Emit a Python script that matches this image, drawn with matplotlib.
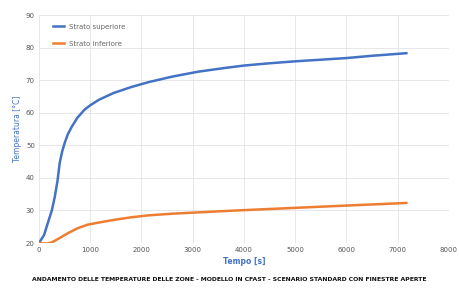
import numpy as np
import matplotlib.pyplot as plt

# Strato superiore
t_sup = [0, 100, 173, 250, 308, 360, 404, 450, 500, 560, 635, 750, 885, 1000, 1170,
         1460, 1800, 2135, 2600, 3100, 3600, 4000, 4500, 5000, 5500, 6000, 6500, 7170]
T_sup = [20, 22.5, 26.2, 30, 34.2, 39, 44.6, 48, 50.7, 53.3, 55.6, 58.5, 60.9, 62.3, 64,
         66.1, 67.9, 69.4, 71.1, 72.6, 73.7, 74.5, 75.2, 75.8, 76.3, 76.8, 77.5, 78.3]

# Strato inferiore
t_inf = [0, 150, 250, 400, 560, 750, 940, 1170, 1460, 1800, 2135, 2600, 3100, 3600,
         4000, 5000, 6000, 7170]
T_inf = [20, 19.8, 20.2, 21.5, 23, 24.5, 25.6, 26.3, 27.1, 27.9, 28.5, 29, 29.4, 29.8,
         30.1, 30.8, 31.5, 32.3]

x_ticks = [0, 1000, 2000, 3000, 4000, 5000, 6000, 7000, 8000]
y_ticks = [20, 30, 40, 50, 60, 70, 80, 90]

blu = '#4472C4'
arancio = '#ED7D31'

fig = plt.figure(figsize=(4.59, 2.9), dpi=100)
ax = fig.add_axes([0.085, 0.162, 0.893, 0.786])

ax.plot(t_sup, T_sup, color=blu, lw=1.8, label='Strato superiore')
ax.plot(t_inf, T_inf, color=arancio, lw=1.8, label='Strato inferiore')

ax.set_xlim(0, 8000)
ax.set_ylim(20, 90)
ax.set_xticks(x_ticks)
ax.set_yticks(y_ticks)
ax.tick_params(labelsize=5, colors='#555555', length=0, pad=3)
ax.grid(True, color='#e4e4e4', lw=0.6)
for s in ax.spines.values():
    s.set_visible(False)

ax.set_xlabel('Tempo [s]', fontsize=5.5, color=blu, labelpad=3, fontweight='bold')
ax.set_ylabel('Temperatura [°C]', fontsize=5.5, color=blu, labelpad=3)

ax.legend(loc='upper left', fontsize=5, frameon=False, handlelength=1.5,
          labelspacing=1.6, bbox_to_anchor=(0.02, 0.99), labelcolor='#666666')

fig.text(0.5, 0.03,
         'ANDAMENTO DELLE TEMPERATURE DELLE ZONE - MODELLO IN CFAST - SCENARIO STANDARD CON FINESTRE APERTE',
         ha='center', fontsize=4.4, color='#111111', fontweight='bold')

fig.savefig('out.png', dpi=100)
